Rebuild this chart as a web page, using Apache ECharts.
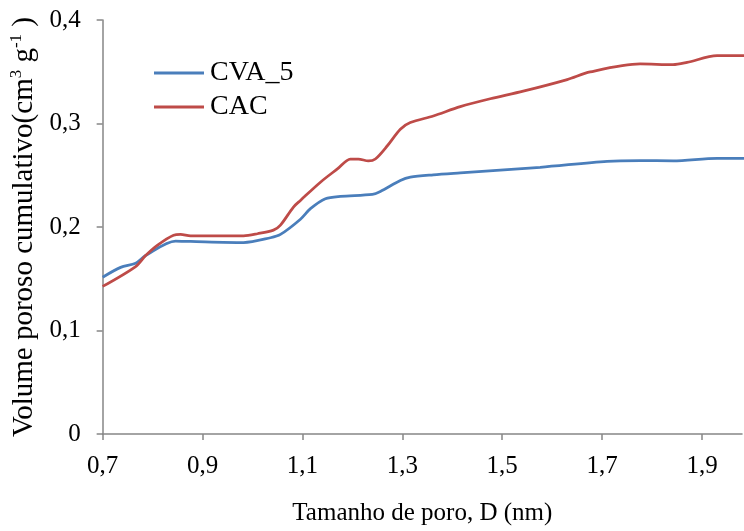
<!DOCTYPE html>
<html>
<head>
<meta charset="utf-8">
<script src="https://cdn.jsdelivr.net/npm/echarts@6/dist/echarts.min.js"></script>
<style>
html,body{margin:0;padding:0;background:#fff;}
#chart{width:744px;height:531px;}
</style>
</head>
<body>
<div id="chart"></div>
<script>
// Data
const xCVA = [0.70, 0.736, 0.766, 0.786, 0.846, 0.876, 0.982, 1.036, 1.056, 1.096, 1.116, 1.146, 1.176, 1.24, 1.256, 1.296, 1.316, 1.362, 1.416, 1.576, 1.71, 1.776, 1.842, 1.93, 1.984];
const yCVA = [0.1515, 0.161, 0.165, 0.1724, 0.1864, 0.186, 0.185, 0.1896, 0.1928, 0.2075, 0.2177, 0.2273, 0.2296, 0.2315, 0.2343, 0.2449, 0.2481, 0.2504, 0.2523, 0.2577, 0.2635, 0.2641, 0.264, 0.2664, 0.2664];
const xCAC = [0.70, 0.766, 0.786, 0.81, 0.842, 0.856, 0.876, 0.982, 1.01, 1.042, 1.056, 1.082, 1.096, 1.136, 1.17, 1.196, 1.212, 1.232, 1.246, 1.27, 1.296, 1.316, 1.362, 1.416, 1.476, 1.542, 1.63, 1.676, 1.776, 1.842, 1.87, 1.93, 1.984];
const yCAC = [0.1426, 0.1618, 0.1724, 0.1825, 0.1921, 0.1928, 0.1915, 0.1915, 0.1935, 0.197, 0.2018, 0.2193, 0.2257, 0.2433, 0.2561, 0.2657, 0.2657, 0.2638, 0.2657, 0.2785, 0.2945, 0.3009, 0.3073, 0.3163, 0.3239, 0.3312, 0.3424, 0.3498, 0.3575, 0.3568, 0.359, 0.3655, 0.3655];
const xTicks = [0.7, 0.9, 1.1, 1.3, 1.5, 1.7, 1.9];
const yTicks = [0, 0.1, 0.2, 0.3, 0.4];
const seriesNames = ['CVA_5', 'CAC'];

const FONT = '"Liberation Serif", "Times New Roman", serif';
const AXIS_COLOR = '#868686';
const fmt = v => (Math.abs(v) < 1e-9 ? '0' : v.toFixed(1).replace('.', ','));
const pairs = (xs, ys) => xs.map((x, i) => [x, ys[i]]);

const chart = echarts.init(document.getElementById('chart'), null, {renderer: 'canvas'});
chart.setOption({
  animation: false,
  backgroundColor: '#ffffff',
  grid: {left: 102, top: 20, right: 2, bottom: 92, containLabel: false},
  legend: {
    orient: 'vertical', left: 149, top: 54, itemGap: 6, padding: 5,
    itemWidth: 50, itemHeight: 3, icon: 'rect',
    textStyle: {fontFamily: FONT, fontSize: 28, color: '#000', padding: [0, 0, 0, 1]},
    data: seriesNames
  },
  xAxis: {
    type: 'value', min: 0.7, max: 1.98,
    name: 'Tamanho de poro, D (nm)', nameLocation: 'middle', nameGap: 67,
    nameTextStyle: {fontFamily: FONT, fontSize: 25, color: '#000'},
    axisLine: {show: true, lineStyle: {color: AXIS_COLOR, width: 1.5}},
    axisTick: {show: true, length: 6, customValues: xTicks, lineStyle: {color: AXIS_COLOR, width: 1.5}},
    axisLabel: {customValues: xTicks, formatter: fmt, margin: 20, fontFamily: FONT, fontSize: 25, color: '#000'},
    splitLine: {show: false}
  },
  yAxis: {
    type: 'value', min: 0, max: 0.4, interval: 0.1,
    name: '{n|Volume poroso cumulativo(cm}{s|3}{n| g}{s|-1}{n| )}',
    nameLocation: 'middle', nameGap: 62, nameRotate: 90,
    nameTextStyle: {
      fontFamily: FONT, fontSize: 29, color: '#000',
      rich: {
        n: {fontFamily: FONT, fontSize: 29, color: '#000', lineHeight: 32},
        s: {fontFamily: FONT, fontSize: 17, color: '#000', verticalAlign: 'top', lineHeight: 32}
      }
    },
    axisLine: {show: true, lineStyle: {color: AXIS_COLOR, width: 1.5}},
    axisTick: {show: true, length: 6, lineStyle: {color: AXIS_COLOR, width: 1.5}},
    axisLabel: {formatter: fmt, margin: 22, fontFamily: FONT, fontSize: 25, color: '#000'},
    splitLine: {show: false}
  },
  series: [
    {name: seriesNames[0], type: 'line', data: pairs(xCVA, yCVA), smooth: 0.3, symbol: 'none',
     lineStyle: {color: '#4a7ebb', width: 2.75}, itemStyle: {color: '#4a7ebb'}},
    {name: seriesNames[1], type: 'line', data: pairs(xCAC, yCAC), smooth: 0.3, symbol: 'none',
     lineStyle: {color: '#be4b48', width: 2.75}, itemStyle: {color: '#be4b48'}}
  ]
});
</script>
</body>
</html>
